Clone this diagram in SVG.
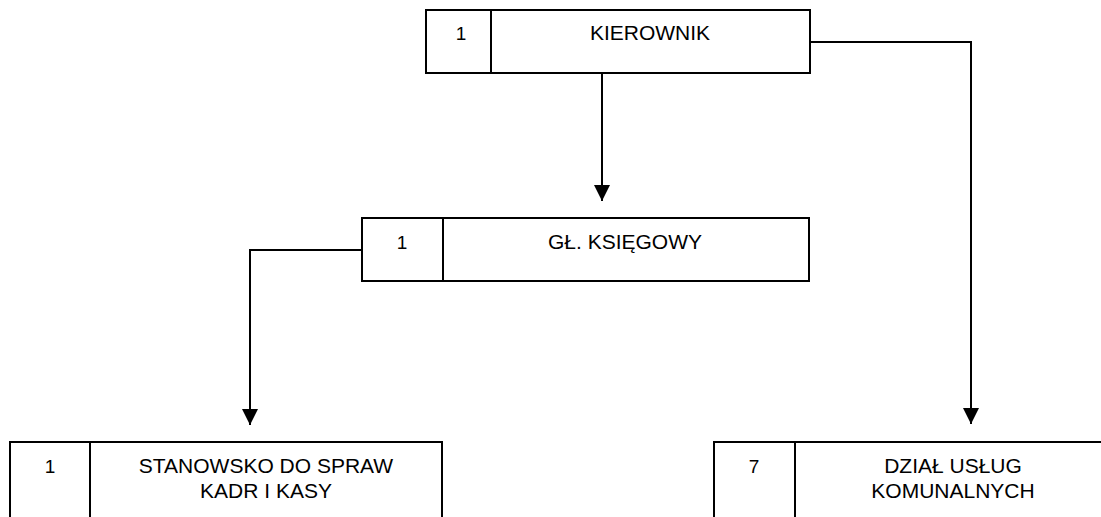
<svg xmlns="http://www.w3.org/2000/svg" width="1101" height="517" viewBox="0 0 1101 517">
<defs>
<style>
.box{fill:#fff;stroke:#000;stroke-width:2}
.div{stroke:#000;stroke-width:2}
.t{font-family:"Liberation Sans",Arial,sans-serif;font-size:21px;fill:#000;text-anchor:middle}
.n{font-family:"Liberation Sans",Arial,sans-serif;font-size:19px;fill:#000;text-anchor:middle}
.con{fill:none;stroke:#000;stroke-width:2}
</style>
<marker id="arr" viewBox="0 0 16 16" refX="16" refY="8" markerWidth="16" markerHeight="16" markerUnits="userSpaceOnUse" orient="auto">
<path d="M0,0 L16,8 L0,16 Z" fill="#000"/>
</marker>
</defs>
<rect width="1101" height="517" fill="#fff"/>
<g id="connectors">
<path class="con" d="M602,74 V201" marker-end="url(#arr)"/>
<path class="con" d="M810,42 H971 V424" marker-end="url(#arr)"/>
<path class="con" d="M362,250 H250 V425" marker-end="url(#arr)"/>
</g>
<g id="kierownik">
<rect class="box" x="426" y="10" width="384" height="63"/>
<line class="div" x1="491" y1="10" x2="491" y2="73"/>
<text class="n" x="461" y="40">1</text>
<text class="t" x="650" y="40">KIEROWNIK</text>
</g>
<g id="glowny-ksiegowy">
<rect class="box" x="362" y="218" width="447" height="63"/>
<line class="div" x1="443" y1="218" x2="443" y2="281"/>
<text class="n" x="402" y="249">1</text>
<text class="t" x="625" y="249">GŁ. KSIĘGOWY</text>
</g>
<g id="kadry-kasa">
<rect class="box" x="10" y="442" width="432" height="90"/>
<line class="div" x1="90" y1="442" x2="90" y2="532"/>
<text class="n" x="50" y="473">1</text>
<text class="t" x="266" y="473">STANOWSKO DO SPRAW</text>
<text class="t" x="266" y="498">KADR I KASY</text>
</g>
<g id="uslugi-komunalne">
<rect class="box" x="714" y="442" width="400" height="90"/>
<line class="div" x1="795" y1="442" x2="795" y2="532"/>
<text class="n" x="754" y="473">7</text>
<text class="t" x="953" y="473">DZIAŁ USŁUG</text>
<text class="t" x="953" y="498">KOMUNALNYCH</text>
</g>
</svg>
